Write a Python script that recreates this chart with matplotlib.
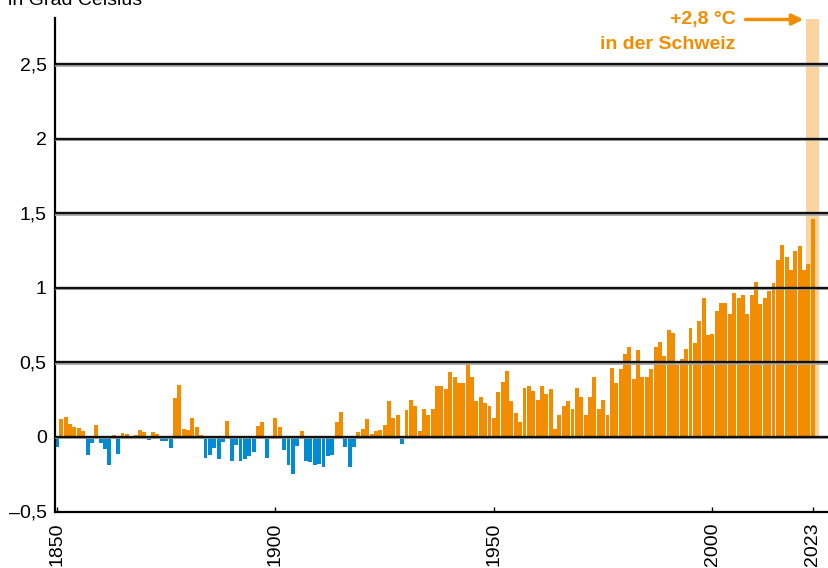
import numpy as np
import matplotlib
matplotlib.use("Agg")
import matplotlib.pyplot as plt

plt.rcParams['font.family'] = ['Liberation Sans', 'DejaVu Sans']

# Jahresabweichung global, in Grad Celsius
years = list(range(1850, 2024))
anomaly = [
    -0.067, 0.123, 0.132, 0.085, 0.065, 0.058, 0.038, -0.123, -0.043, 0.078,
    -0.040, -0.080, -0.190, 0.010, -0.116, 0.025, 0.018, 0.005, 0.015, 0.045,
    0.030, -0.020, 0.030, 0.018, -0.027, -0.027, -0.075, 0.260, 0.347, 0.050,
    0.045, 0.125, 0.065, 0.010, -0.143, -0.123, -0.076, -0.150, -0.034, 0.110,
    -0.160, -0.056, -0.160, -0.150, -0.130, -0.100, 0.072, 0.100, -0.140, 0.008,
    0.125, 0.065, -0.090, -0.190, -0.250, -0.060, 0.038, -0.160, -0.170, -0.190,
    -0.180, -0.200, -0.130, -0.120, 0.100, 0.165, -0.070, -0.200, -0.070, 0.030,
    0.055, 0.120, 0.020, 0.040, 0.045, 0.078, 0.240, 0.130, 0.150, -0.050,
    0.180, 0.250, 0.210, 0.040, 0.185, 0.150, 0.190, 0.340, 0.345, 0.320,
    0.435, 0.400, 0.360, 0.365, 0.510, 0.400, 0.240, 0.265, 0.230, 0.210,
    0.130, 0.300, 0.370, 0.440, 0.240, 0.160, 0.100, 0.325, 0.340, 0.310,
    0.245, 0.340, 0.290, 0.320, 0.050, 0.150, 0.210, 0.240, 0.190, 0.325,
    0.270, 0.150, 0.265, 0.405, 0.185, 0.245, 0.145, 0.460, 0.365, 0.455,
    0.555, 0.605, 0.390, 0.580, 0.405, 0.405, 0.455, 0.600, 0.640, 0.540,
    0.720, 0.700, 0.485, 0.525, 0.590, 0.730, 0.630, 0.780, 0.930, 0.685,
    0.690, 0.845, 0.900, 0.900, 0.825, 0.965, 0.930, 0.950, 0.825, 0.950,
    1.040, 0.890, 0.930, 0.980, 1.030, 1.190, 1.290, 1.210, 1.120, 1.250,
    1.280, 1.120, 1.160, 1.460,
]
swiss_year = 2023
swiss_value = 2.8
yticks = [-0.5, 0, 0.5, 1, 1.5, 2, 2.5]
ytick_labels = ["\u20130,5", "0", "0,5", "1", "1,5", "2", "2,5"]
xticks = [1850, 1900, 1950, 2000, 2023]

ORANGE = "#F28C00"
BLUE = "#008BD2"
LIGHT = "#FCD4A0"

fig = plt.figure(figsize=(8.29, 5.68), dpi=100)
ax = fig.add_axes([55 / 829, 56.5 / 568, 1 - 55 / 829, 493.5 / 568])

colors = [BLUE if v < 0 else ORANGE for v in anomaly]
ax.bar(swiss_year, swiss_value, width=2.9, color=LIGHT, linewidth=0, zorder=1)
ax.bar(years, anomaly, width=0.9, color=colors, linewidth=0, zorder=2)

# horizontal lines with a light shadow
for y in yticks[1:]:
    ax.axhline(y - 0.009, color="#a8a8a8", lw=1.3, zorder=3)
    ax.axhline(y, color="#111111", lw=1.7, zorder=4)

ax.set_xlim(1849.55, 2026.7)
ax.set_ylim(-0.5, 2.81)

ax.set_yticks(yticks)
ax.set_yticklabels(ytick_labels)
ax.set_xticks(xticks)
ax.set_xticklabels([str(x) for x in xticks], rotation=90)
ax.tick_params(axis="y", length=0, pad=6, labelsize=14)
ax.tick_params(axis="x", direction="in", length=3.5, width=1, pad=8, labelsize=14)

for side in ["top", "right"]:
    ax.spines[side].set_visible(False)
ax.spines["left"].set_linewidth(1.6)
ax.spines["bottom"].set_linewidth(1.6)

# annotation for Switzerland
ax.annotate("", xy=(2020.8, 2.80), xytext=(2007.6, 2.80),
            arrowprops=dict(arrowstyle="-|>", color=ORANGE, lw=2.5,
                            mutation_scale=16, shrinkA=0, shrinkB=0),
            annotation_clip=False, zorder=5)
ax.text(2005.3, 2.80, "+2,8 \u00b0C", color=ORANGE, fontsize=14,
        fontweight="bold", ha="right", va="center", clip_on=False)
ax.text(2005.3, 2.635, "in der Schweiz", color=ORANGE, fontsize=14,
        fontweight="bold", ha="right", va="center", clip_on=False)

fig.text(8 / 829, 1 - 5 / 568, "in Grad Celsius", fontsize=14,
         ha="left", va="baseline")

fig.savefig("out.png", dpi=100)
